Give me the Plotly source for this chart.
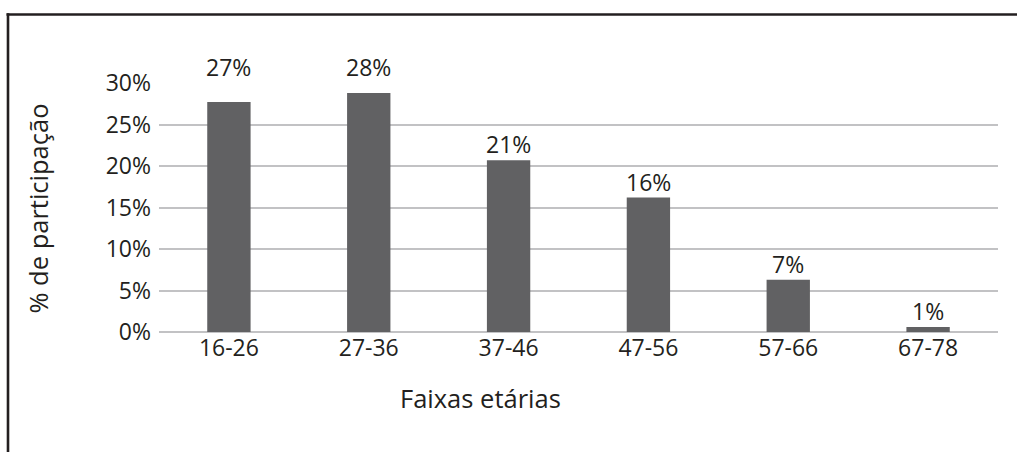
import plotly.graph_objects as go

categories = ["16-26", "27-36", "37-46", "47-56", "57-66", "67-78"]
values = [27.7, 28.8, 20.7, 16.2, 6.3, 0.6]
value_labels = ["27%", "28%", "21%", "16%", "7%", "1%"]
y_ticks = [0, 5, 10, 15, 20, 25, 30]
y_tick_labels = ["0%", "5%", "10%", "15%", "20%", "25%", "30%"]
x_title = "Faixas etárias"
y_title = "% de participação"

W, H = 1017, 452
ML, MR, MT, MB = 159, 19, 83.3, 119.5
PW = W - ML - MR
PH = H - MT - MB

def px_x(p):
    return (p - ML) / PW

def px_y(p):
    return (H - MB - p) / PH

FONT = "Open Sans"
TXT = "#231f20"
YMAX = y_ticks[-1]
TICK_SIZE = 23
TITLE_SIZE = 25.5

fig = go.Figure()
fig.add_trace(go.Bar(
    x=categories, y=values,
    marker=dict(color="#616163", line=dict(width=0)),
    hoverinfo="skip",
))

annotations = []
for c, v, t in zip(categories, values, value_labels):
    # labels that would run past the top of the plot sit just above it
    ly = YMAX if v + 2.5 > YMAX else v
    annotations.append(dict(
        x=c, y=ly, xref="x", yref="y", text=t, showarrow=False,
        yanchor="bottom", yshift=-2, font=dict(family=FONT, size=TICK_SIZE, color=TXT),
    ))
annotations.append(dict(
    x=px_x(480), y=px_y(399), xref="paper", yref="paper", text=x_title,
    showarrow=False, xanchor="center", yanchor="middle",
    font=dict(family=FONT, size=TITLE_SIZE, color=TXT),
))
annotations.append(dict(
    x=px_x(38), y=px_y(209), xref="paper", yref="paper", text=y_title,
    showarrow=False, xanchor="center", yanchor="middle", textangle=-90,
    font=dict(family=FONT, size=TITLE_SIZE, color=TXT),
))

shapes = [
    dict(type="line", xref="paper", yref="paper", x0=px_x(6.5), x1=px_x(1020),
         y0=px_y(14.8), y1=px_y(14.8), line=dict(color="#231f20", width=2.6)),
    dict(type="line", xref="paper", yref="paper", x0=px_x(8), x1=px_x(8),
         y0=px_y(13.5), y1=px_y(460), line=dict(color="#231f20", width=2.6)),
]

fig.update_layout(
    width=W, height=H,
    margin=dict(l=ML, r=MR, t=MT, b=MB, pad=0),
    paper_bgcolor="white", plot_bgcolor="white",
    showlegend=False,
    bargap=0.69,
    font=dict(family=FONT, size=TICK_SIZE, color=TXT),
    annotations=annotations,
    shapes=shapes,
    xaxis=dict(
        showgrid=False, showline=False, zeroline=False, ticks="",
        tickfont=dict(family=FONT, size=TICK_SIZE, color=TXT),
    ),
    yaxis=dict(
        range=[0, YMAX], tickvals=y_ticks, ticktext=y_tick_labels,
        showgrid=True, gridcolor="#c2c2c4", gridwidth=2,
        zeroline=True, zerolinecolor="#c2c2c4", zerolinewidth=2,
        showline=False, ticks="", ticklabelstandoff=7,
        tickfont=dict(family=FONT, size=TICK_SIZE, color=TXT),
    ),
)

fig.write_html("out.html")
